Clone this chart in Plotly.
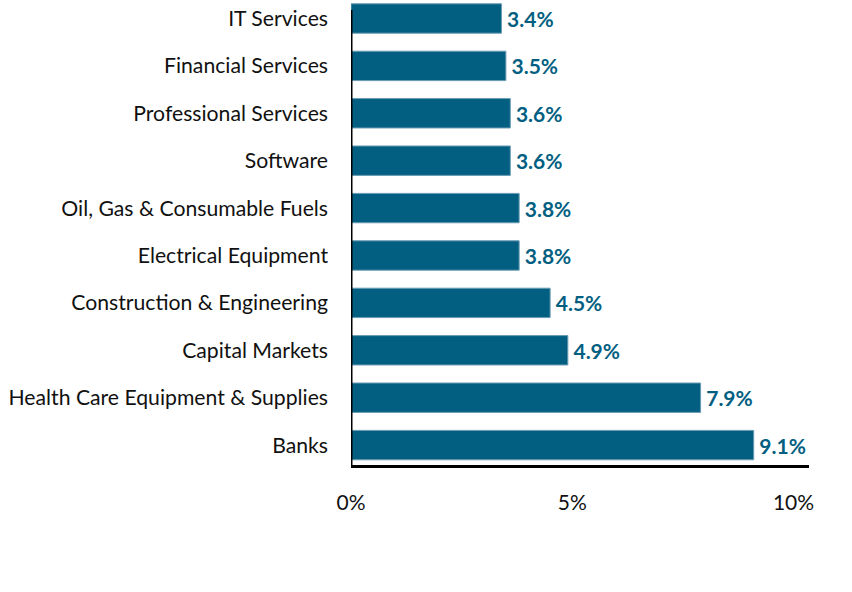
import plotly.graph_objects as go

categories = ["Banks", "Health Care Equipment & Supplies", "Capital Markets",
              "Construction & Engineering", "Electrical Equipment",
              "Oil, Gas & Consumable Fuels", "Software", "Professional Services",
              "Financial Services", "IT Services"]
values = [9.1, 7.9, 4.9, 4.5, 3.8, 3.8, 3.6, 3.6, 3.5, 3.4]
tick_vals = [0, 5, 10]
tick_text = ["0%", "5%", "10%"]

bar_color = "#035F82"

fig = go.Figure(go.Bar(
    y=categories, x=values, orientation="h",
    marker=dict(color=bar_color, line=dict(color="#6a9bb3", width=1)),
    width=0.62,
    text=[f"\u2009{v:.1f}%" for v in values],
    textposition="outside",
    textfont=dict(family="Lato", size=21, color=bar_color, weight="bold"),
    cliponaxis=False,
    hoverinfo="skip",
))

fig.update_layout(
    width=852, height=592,
    margin=dict(l=351, r=43, t=0, b=127),
    paper_bgcolor="white", plot_bgcolor="white",
    font=dict(family="Lato", size=21.2, color="#111111"),
    showlegend=False,
)
fig.update_xaxes(
    range=[0, 10.35], tickvals=tick_vals, ticktext=tick_text,
    showgrid=False, zeroline=False,
    showline=True, linecolor="black", linewidth=3,
    ticks="", ticklabelstandoff=17,
    tickfont=dict(family="Lato", size=21, color="#111111"),
)
fig.update_yaxes(
    range=[-0.42, 9.39], showgrid=False, zeroline=False, showline=False,
    ticks="", ticklabelstandoff=22,
    tickfont=dict(family="Lato", size=21.2, color="#111111"),
)
fig.add_shape(type="line", xref="x", yref="y", x0=0, x1=0, y0=-0.42, y1=9.18,
              line=dict(color="black", width=3))

fig.write_html("out.html")
